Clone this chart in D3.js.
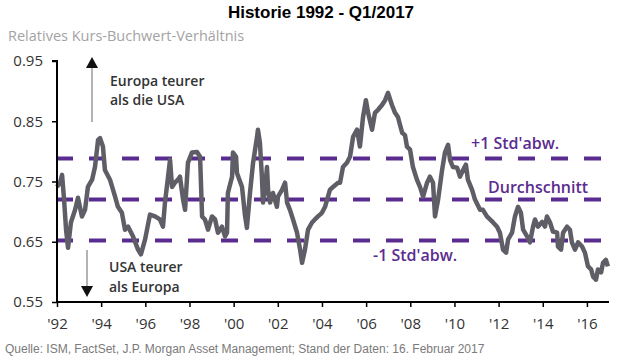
<!DOCTYPE html>
<html><head><meta charset="utf-8">
<script src="https://cdn.jsdelivr.net/npm/d3@7"></script>
<style>
body{margin:0;background:#fff;}
svg{display:block;}
</style></head>
<body>
<svg id="chart" width="640" height="360"></svg>
<script>
const years = [1992.00,1992.14,1992.23,1992.32,1992.41,1992.50,1992.63,1992.82,1992.95,1993.13,1993.27,1993.40,1993.59,1993.72,1993.86,1993.95,1994.08,1994.17,1994.40,1994.63,1994.76,1994.94,1995.08,1995.22,1995.44,1995.67,1995.80,1995.99,1996.21,1996.44,1996.66,1996.80,1996.89,1997.03,1997.12,1997.21,1997.34,1997.48,1997.57,1997.71,1997.80,1997.93,1998.11,1998.34,1998.48,1998.57,1998.70,1998.84,1999.02,1999.16,1999.29,1999.47,1999.61,1999.70,1999.74,1999.93,1999.97,2000.11,2000.15,2000.38,2000.51,2000.60,2000.74,2000.88,2001.06,2001.10,2001.19,2001.28,2001.33,2001.42,2001.51,2001.56,2001.65,2001.78,2001.96,2002.01,2002.19,2002.33,2002.42,2002.55,2002.69,2002.87,2003.01,2003.10,2003.23,2003.37,2003.55,2003.68,2003.82,2004.00,2004.14,2004.36,2004.50,2004.73,2004.82,2004.95,2005.13,2005.27,2005.41,2005.59,2005.72,2005.86,2005.99,2006.09,2006.27,2006.40,2006.54,2006.72,2006.86,2006.99,2007.17,2007.31,2007.44,2007.63,2007.76,2007.85,2007.99,2008.12,2008.30,2008.44,2008.58,2008.76,2008.89,2009.03,2009.12,2009.26,2009.44,2009.57,2009.71,2009.80,2009.93,2010.12,2010.25,2010.39,2010.52,2010.61,2010.80,2010.93,2011.16,2011.29,2011.47,2011.61,2011.75,2011.93,2012.06,2012.20,2012.34,2012.43,2012.61,2012.74,2012.88,2013.01,2013.11,2013.29,2013.42,2013.56,2013.65,2013.78,2013.97,2014.10,2014.19,2014.33,2014.46,2014.65,2014.69,2014.83,2014.92,2015.10,2015.23,2015.32,2015.46,2015.60,2015.78,2015.91,2016.05,2016.19,2016.28,2016.41,2016.50,2016.64,2016.73,2016.86,2016.95];
const ratio = [0.741,0.748,0.761,0.720,0.670,0.640,0.682,0.703,0.723,0.692,0.703,0.741,0.753,0.774,0.819,0.822,0.808,0.769,0.753,0.725,0.708,0.698,0.670,0.675,0.659,0.637,0.629,0.654,0.695,0.692,0.687,0.675,0.715,0.758,0.786,0.741,0.748,0.753,0.758,0.720,0.703,0.781,0.798,0.799,0.791,0.692,0.687,0.670,0.692,0.687,0.665,0.675,0.659,0.665,0.731,0.758,0.798,0.791,0.764,0.741,0.695,0.673,0.731,0.781,0.824,0.836,0.814,0.758,0.715,0.736,0.774,0.736,0.715,0.731,0.708,0.725,0.736,0.748,0.715,0.703,0.687,0.665,0.637,0.615,0.637,0.670,0.682,0.687,0.692,0.698,0.708,0.736,0.741,0.748,0.748,0.774,0.781,0.791,0.824,0.836,0.808,0.857,0.885,0.864,0.836,0.864,0.869,0.877,0.885,0.897,0.877,0.864,0.857,0.831,0.827,0.808,0.803,0.774,0.753,0.741,0.725,0.748,0.758,0.748,0.692,0.720,0.769,0.798,0.811,0.786,0.774,0.773,0.758,0.769,0.778,0.753,0.736,0.720,0.703,0.703,0.692,0.687,0.682,0.675,0.665,0.637,0.632,0.654,0.665,0.692,0.708,0.698,0.670,0.659,0.649,0.675,0.687,0.675,0.683,0.675,0.692,0.682,0.667,0.665,0.642,0.637,0.665,0.675,0.670,0.649,0.637,0.649,0.642,0.632,0.609,0.604,0.592,0.587,0.604,0.599,0.615,0.620,0.609];
const refLevels = [0.788, 0.720, 0.652];
const refLabels = ["+1 Std'abw.", "Durchschnitt", "-1 Std'abw."];
const yTicks = [0.55, 0.65, 0.75, 0.85, 0.95];
const xTicks = [1992,1994,1996,1998,2000,2002,2004,2006,2008,2010,2012,2014,2016];
const xTickLabels = ["'92","'94","'96","'98","'00","'02","'04","'06","'08","'10","'12","'14","'16"];

const svg = d3.select("#chart");
const x = d3.scaleLinear().domain([1992, 2017]).range([57, 609]);
const y = d3.scaleLinear().domain([0.55, 0.95]).range([302, 61]);
const font = "'Open Sans', sans-serif";

// Title
svg.append("text").attr("x", 321).attr("y", 18).attr("text-anchor", "middle")
  .attr("font-family", "'Liberation Sans', Arial, sans-serif").attr("font-weight", "bold")
  .attr("font-size", 17).attr("fill", "#000").text("Historie 1992 - Q1/2017");

// y axis title
svg.append("text").attr("x", 8).attr("y", 41).attr("font-family", font)
  .attr("font-size", 14.5).attr("fill", "#a3a3a3").text("Relatives Kurs-Buchwert-Verhältnis");

// reference dashed lines
svg.append("g").selectAll("line").data(refLevels).join("line")
  .attr("x1", x(1992)).attr("x2", x(2016.9))
  .attr("y1", d => y(d)).attr("y2", d => y(d))
  .attr("stroke", "#5b2c8f").attr("stroke-width", 4)
  .attr("stroke-dasharray", "17,16").attr("stroke-dashoffset", 1);

// series line
const line = d3.line().x((d, i) => x(years[i])).y(d => y(d)).curve(d3.curveLinear);
svg.append("path").datum(ratio).attr("d", line).attr("fill", "none")
  .attr("stroke", "#5f5e67").attr("stroke-width", 4.5).attr("stroke-linejoin", "round");

// axes
const yAxis = svg.append("g").attr("transform", `translate(${x(1992)},0)`)
  .call(d3.axisLeft(y).tickValues(yTicks).tickFormat(d3.format(".2f")).tickSize(5).tickPadding(9));
const xAxis = svg.append("g").attr("transform", `translate(0,${y(0.55)})`)
  .call(d3.axisBottom(x).tickValues(xTicks).tickFormat((d, i) => xTickLabels[i]).tickSize(5).tickPadding(11));
[yAxis, xAxis].forEach(g => {
  g.select(".domain").attr("stroke", "#000").attr("stroke-width", 2);
  g.selectAll(".tick line").attr("stroke", "#000").attr("stroke-width", 1.5);
  g.selectAll(".tick text").attr("font-family", font).attr("font-size", 15).attr("fill", "#333");
});
yAxis.select(".domain").attr("d", `M-5,${y(0.95)}H0V${y(0.55)}`);
xAxis.select(".domain").attr("d", `M${x(1992)},0H${x(2017)}`);

// reference labels
const labelPos = [[471, 149], [488, 193], [373, 261]];
svg.append("g").selectAll("text").data(refLabels).join("text")
  .attr("x", (d, i) => labelPos[i][0]).attr("y", (d, i) => labelPos[i][1])
  .attr("font-family", font).attr("font-weight", 600).attr("font-size", 16)
  .attr("fill", "#5b2c8f").text(d => d);

// annotations
const ann = svg.append("g").attr("font-family", font).attr("font-weight", 600)
  .attr("font-size", 14).attr("fill", "#333");
ann.append("text").attr("x", 110).attr("y", 86).text("Europa teurer");
ann.append("text").attr("x", 110).attr("y", 105).text("als die USA");
ann.append("text").attr("x", 109).attr("y", 272).text("USA teurer");
ann.append("text").attr("x", 109).attr("y", 292).text("als Europa");

// arrows
svg.append("line").attr("x1", 92).attr("x2", 92).attr("y1", 122).attr("y2", 66)
  .attr("stroke", "#9a9a9a").attr("stroke-width", 1.5);
svg.append("path").attr("d", "M92,57L86,68L98,68Z").attr("fill", "#111");
svg.append("line").attr("x1", 87).attr("x2", 87).attr("y1", 250).attr("y2", 287)
  .attr("stroke", "#9a9a9a").attr("stroke-width", 1.5);
svg.append("path").attr("d", "M87,297L81,286L93,286Z").attr("fill", "#111");

// source
svg.append("text").attr("x", 5).attr("y", 353)
  .attr("font-family", "'Liberation Sans', Arial, sans-serif").attr("font-size", 12)
  .attr("fill", "#7a7a7a")
  .text("Quelle: ISM, FactSet, J.P. Morgan Asset Management; Stand der Daten: 16. Februar 2017");
</script>
</body></html>
